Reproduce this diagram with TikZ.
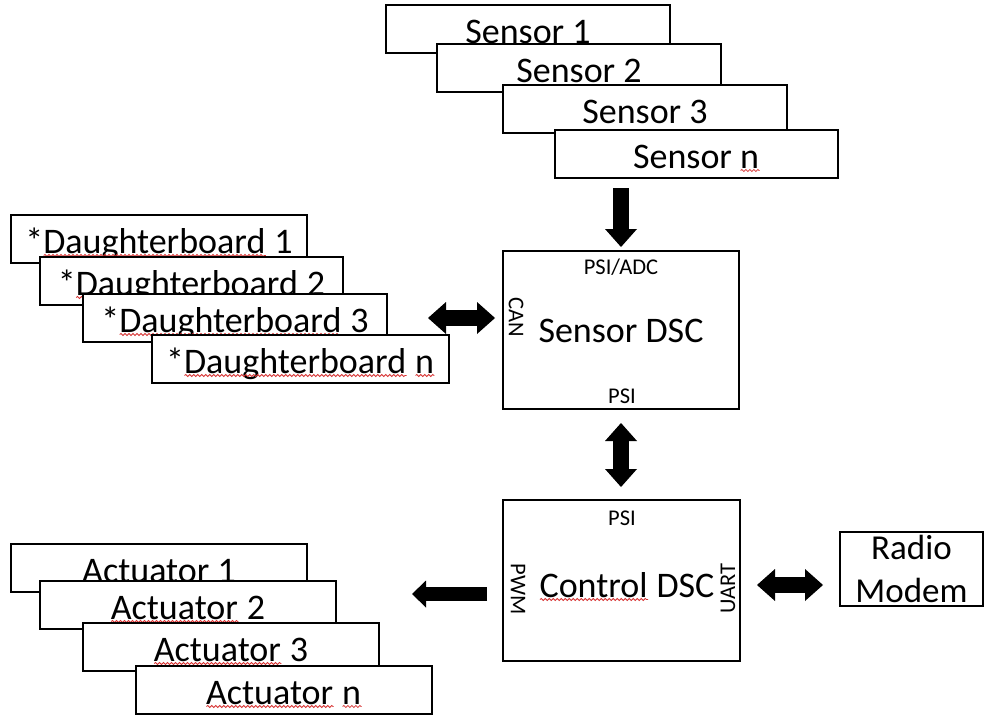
\documentclass[tikz,border=0pt]{standalone}
\usepackage{fontspec}
\setmainfont{Carlito}
\usetikzlibrary{arrows.meta,decorations.pathmorphing}
\definecolor{spell}{RGB}{215,50,50}
\newsavebox\rwbox
\newlength\rwlen
\newcommand\redw[1]{\sbox\rwbox{#1}\setlength\rwlen{\wd\rwbox}\rlap{\usebox\rwbox}\tikz[baseline=0pt]\draw[spell, line width=0.8pt, decorate, decoration={snake, amplitude=1pt, segment length=4pt}] (0pt,-2.5pt) -- (\rwlen,-2.5pt);}
\tikzset{
  fh/.tip={Triangle[width=32pt,length=18pt,line width=0pt]},
  fs/.tip={Triangle[width=27pt,length=14pt,line width=0pt]},
}
\begin{document}
\begin{tikzpicture}[x=1pt,y=-1pt,
  box/.style={draw, line width=2.4pt, fill=white, inner sep=0pt, outer sep=0pt,
    minimum height=48pt, text height=28pt, text depth=0pt,
    font=\fontsize{36}{43}\selectfont, anchor=north west},
  bigbox/.style={draw, line width=2.4pt, fill=white, inner sep=0pt, outer sep=0pt, anchor=north west},
  big/.style={inner sep=0pt, font=\fontsize{36}{43}\selectfont, anchor=base},
  lbl/.style={inner sep=0pt, font=\fontsize{22.5}{27}\selectfont},
  fat/.style={line width=#1, draw=black},
  fat/.default=16pt]
\useasboundingbox (0,0) rectangle (984,715);

% sensors
\node[box, minimum width=284pt] (s1) at (386,5) {Sensor 1};
\node[box, minimum width=284pt] (s2) at (437,44) {Sensor 2};
\node[box, minimum width=284pt] (s3) at (503,85) {Sensor 3};
\node[box, minimum width=283pt] (sn) at (555,130) {Sensor \redw{n}};

% daughterboards
\node[box, minimum width=296pt] (d1) at (11,215) {*\redw{Daughterboard} 1};
\node[box, minimum width=303pt] (d2) at (40,257) {*\redw{Daughterboard} 2};
\node[box, minimum width=304pt] (d3) at (83,294) {*\redw{Daughterboard} 3};
\node[box, minimum width=297pt] (dn) at (152,335) {*\redw{Daughterboard} \redw{n}};

% actuators
\node[box, minimum width=296pt] (a1) at (11,544) {Actuator 1};
\node[box, minimum width=296pt] (a2) at (40,581) {\redw{Actuator} 2};
\node[box, minimum width=296pt] (a3) at (83,623) {\redw{Actuator} 3};
\node[box, minimum width=296pt] (an) at (136,666) {\redw{Actuator} \redw{n}};

% sensor DSC
\node[bigbox, minimum width=236pt, minimum height=158pt] (sdsc) at (503,251) {};
\node[big] (sdsct) at (621,342) {Sensor DSC};
\node[lbl, anchor=base] (sadc) at (621,274) {PSI/ADC};
\node[lbl, anchor=base] (spsi) at (622,403) {PSI};
\node[lbl, rotate=-90] (scan) at (516,317) {CAN};

% control DSC
\node[bigbox, minimum width=237pt, minimum height=161pt] (cdsc) at (503,500) {};
\node[big] (cdsct) at (627,597) {\redw{Control} DSC};
\node[lbl, anchor=base] (cpsi) at (622,525) {PSI};
\node[lbl, rotate=-90] (cpwm) at (518,589) {PWM};
\node[lbl, rotate=90] (cuart) at (728,589) {UART};

% radio modem
\node[bigbox, minimum width=143pt, minimum height=74pt, align=center,
  font=\fontsize{35}{43}\selectfont] (radio) at (840,532) {Radio\\Modem};

% arrows
\draw[fat, -{fh}] ([yshift=-10pt]sn.south -| sdsc.north) -- ([yshift=4pt]sdsc.north);
\draw[fat, {fh}-{fh}] ([xshift=41pt]d3.east) -- ([xshift=-8pt]sdsc.west |- d3.east);
\draw[fat, {fh}-{fh}] ([yshift=-14pt]sdsc.south) -- ([yshift=13pt]cdsc.north -| sdsc.south);
\coordinate (actin) at (412,594);
\draw[fat=14pt, -{fs}] ([shift={(-16pt,-13.5pt)}]cdsc.west) -- (actin);
\coordinate (ry) at ([yshift=-4.5pt]cdsc.east);
\draw[fat, {fh}-{fh}] ([xshift=17pt]ry) -- ([xshift=-17pt]ry -| radio.west);
\end{tikzpicture}
\end{document}
